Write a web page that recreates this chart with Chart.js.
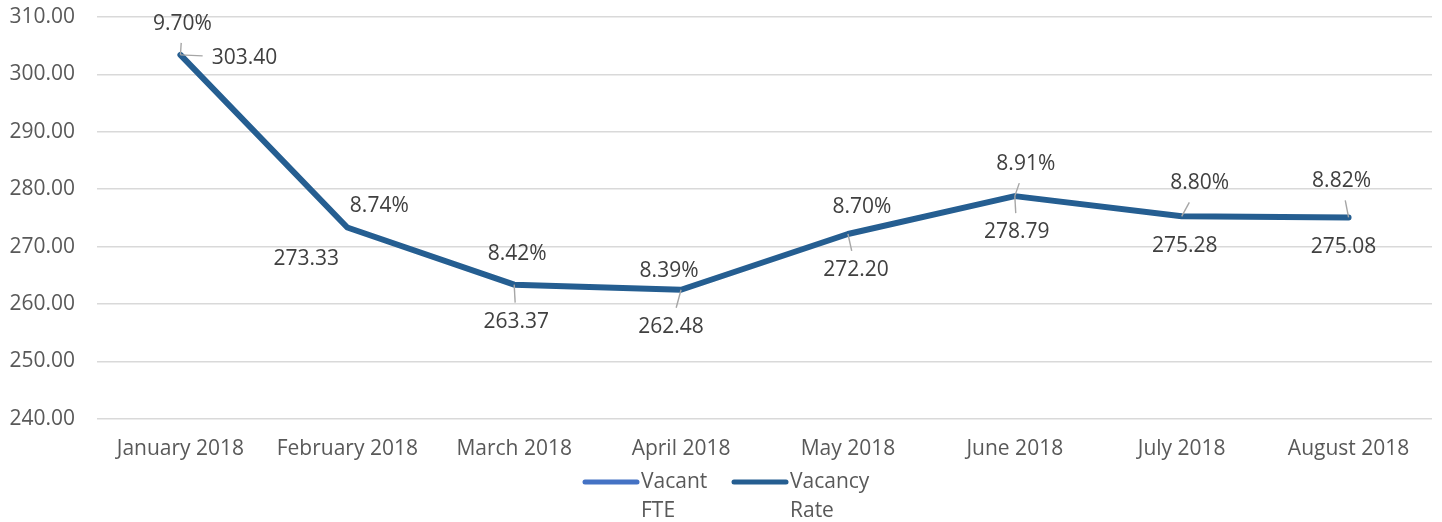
<!DOCTYPE html>
<html>
<head>
<meta charset="utf-8">
<script src="https://cdn.jsdelivr.net/npm/chart.js@4.4.0/dist/chart.umd.min.js"></script>
<style>
  html, body { margin: 0; padding: 0; background: #ffffff; }
  #wrap { width: 1442px; height: 522px; position: relative; }
</style>
</head>
<body>
<div id="wrap"><canvas id="vacancyChart"></canvas></div>
<script>
const months = ["January 2018", "February 2018", "March 2018", "April 2018", "May 2018", "June 2018", "July 2018", "August 2018"];
const vacantFte = [303.40, 273.33, 263.37, 262.48, 272.20, 278.79, 275.28, 275.08];
const vacancyRate = [9.70, 8.74, 8.42, 8.39, 8.70, 8.91, 8.80, 8.82];
const yTicks = [240, 250, 260, 270, 280, 290, 300, 310];

// where each data label sits relative to its point (px), and whether it gets a leader line
const fteLabelOffsets = [[64, 3], [-41, 32], [2, 37], [-10, 37], [8, 36], [2, 36], [3, 30], [-5, 30]];
const rateLabelOffsets = [[2, -31], [32, -21], [3, -31], [-12, -19], [14, -27], [11, -32], [18, -33], [-7, -36]];
const fteLeaders = [true, false, true, true, true, true, false, false];
const rateLeaders = [true, false, false, false, false, true, true, true];

const FONT = "'Open Sans', 'Noto Sans', sans-serif";
const FSIZE = 21;
const colorFte = '#4472C4';
const colorRate = '#255E91';

function drawLabels(chart, values, offsets, leaders, fmt) {
    const ctx = chart.ctx;
    const fteMeta = chart.getDatasetMeta(0);
    ctx.save();
    ctx.font = FSIZE + 'px ' + FONT;
    ctx.textAlign = 'center';
    ctx.textBaseline = 'middle';
    values.forEach(function (v, i) {
        const pt = fteMeta.data[i];
        const lx = pt.x + offsets[i][0];
        const ly = pt.y + offsets[i][1];
        const text = fmt(v);
        if (leaders[i]) {
            const w = ctx.measureText(text).width / 2 + 9;
            const h = 10 + 9;
            const dx = pt.x - lx, dy = pt.y - ly;
            const t = Math.min(Math.abs(dx) > 0 ? w / Math.abs(dx) : 99, Math.abs(dy) > 0 ? h / Math.abs(dy) : 99);
            if (t < 1) {
                ctx.strokeStyle = '#A6A6A6';
                ctx.lineWidth = 1.4;
                ctx.beginPath();
                ctx.moveTo(pt.x, pt.y);
                ctx.lineTo(lx + dx * t, ly + dy * t);
                ctx.stroke();
            }
        }
        ctx.fillStyle = '#404040';
        ctx.fillText(text, lx, ly);
    });
    ctx.restore();
}

const labelPlugin = {
    id: 'labelPlugin',
    afterDatasetsDraw(chart) {
        drawLabels(chart, vacantFte, fteLabelOffsets, fteLeaders, v => v.toFixed(2));
        drawLabels(chart, vacancyRate, rateLabelOffsets, rateLeaders, v => v.toFixed(2) + '%');
    },
    afterDraw(chart) {
        // legend with wrapped labels
        const ctx = chart.ctx;
        const items = [
            { lines: ['Vacant', 'FTE'], color: colorFte, x: 583 },
            { lines: ['Vacancy', 'Rate'], color: colorRate, x: 732 }
        ];
        ctx.save();
        ctx.font = FSIZE + 'px ' + FONT;
        ctx.textBaseline = 'middle';
        ctx.textAlign = 'left';
        items.forEach(function (it) {
            ctx.strokeStyle = it.color;
            ctx.lineWidth = 5;
            ctx.lineCap = 'round';
            ctx.beginPath();
            ctx.moveTo(it.x + 2, 482);
            ctx.lineTo(it.x + 54, 482);
            ctx.stroke();
            ctx.fillStyle = '#595959';
            ctx.fillText(it.lines[0], it.x + 58, 482);
            ctx.fillText(it.lines[1], it.x + 58, 511);
        });
        ctx.restore();
    }
};

new Chart(document.getElementById('vacancyChart').getContext('2d'), {
    type: 'line',
    data: {
        labels: months,
        datasets: [{
            label: 'Vacant FTE',
            data: vacantFte,
            // the visible path in the source is the dark series drawn over this one
            borderColor: colorRate,
            backgroundColor: colorFte,
            borderWidth: 6,
            borderJoinStyle: 'round',
            borderCapStyle: 'round',
            pointRadius: 0,
            tension: 0,
            yAxisID: 'y'
        }, {
            label: 'Vacancy Rate',
            data: vacancyRate,
            borderColor: colorRate,
            backgroundColor: colorRate,
            showLine: false,
            pointRadius: 0,
            yAxisID: 'y1'
        }]
    },
    options: {
        responsive: true,
        maintainAspectRatio: false,
        animation: false,
        layout: { padding: { left: 9, right: 10, top: 17, bottom: 42 } },
        plugins: {
            legend: { display: false },
            tooltip: { enabled: false }
        },
        scales: {
            x: {
                offset: true,
                grid: { display: false, drawTicks: false },
                border: { display: false },
                ticks: { color: '#595959', font: { size: FSIZE, family: FONT }, padding: 18, maxRotation: 0 },
                afterFit: function (scale) { scale.paddingLeft = 0; scale.paddingRight = 0; }
            },
            y: {
                min: 240,
                max: 310,
                afterBuildTicks: function (axis) {
                    axis.ticks = yTicks.map(v => ({ value: v }));
                },
                grid: { color: '#D9D9D9', lineWidth: 1.5, drawTicks: false },
                border: { display: false },
                ticks: {
                    color: '#595959',
                    font: { size: FSIZE, family: FONT },
                    padding: 22,
                    callback: v => Number(v).toFixed(2)
                },
                afterFit: function (scale) {
                    scale.paddingTop = 0;
                    scale.paddingBottom = 0;
                    scale.width = 88;
                }
            },
            y1: {
                display: false,
                min: 7,
                max: 10
            }
        }
    },
    plugins: [labelPlugin]
});
</script>
</body>
</html>
